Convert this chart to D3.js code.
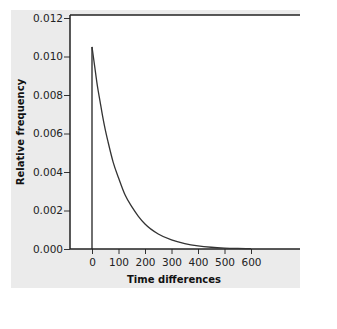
<!DOCTYPE html>
<html><head><meta charset="utf-8">
<script src="https://cdn.jsdelivr.net/npm/d3@7"></script>
<style>body{margin:0;background:#fff}svg{display:block}</style>
</head><body>
<script>
const timeValues = [0, 10, 20, 30, 40, 50, 60, 80, 100, 125, 150, 175, 200, 250, 300, 350, 400, 450, 500, 550, 600];
const freqValues = [0.0105, 0.0095, 0.0085, 0.0077, 0.0069, 0.0062, 0.0056, 0.0045, 0.0037, 0.0028, 0.0022, 0.0017, 0.0013, 0.00078, 0.00047, 0.00028, 0.00016, 0.00009, 0.00005, 0.00003, 0.00002];
const xTicks = [0, 100, 200, 300, 400, 500, 600];
const yTicks = [0, 0.002, 0.004, 0.006, 0.008, 0.010, 0.012];

(function () {
const W = 337, H = 329;
const svg = d3.select("body").append("svg").attr("width", W).attr("height", H);
svg.append("rect").attr("x", 11).attr("y", 10).attr("width", 289).attr("height", 278).attr("fill", "#ebebeb");

const pl = 70, pr = 300, pt = 15, pb = 249;
svg.append("rect").attr("x", pl).attr("y", pt).attr("width", pr - pl).attr("height", pb - pt).attr("fill", "#fff");

const x = d3.scaleLinear().domain([0, 600]).range([92, 251]);
const y = d3.scaleLinear().domain([0, 0.012]).range([pb, 18]);

const font = "DejaVu Sans, Verdana, sans-serif";

const yAxis = svg.append("g").attr("transform", `translate(${pl},0)`)
  .call(d3.axisLeft(y).tickValues(yTicks).tickFormat(d3.format(".3f")).tickSize(6).tickSizeOuter(0));
yAxis.select(".domain").remove();
const xAxis = svg.append("g").attr("transform", `translate(0,${pb})`)
  .call(d3.axisBottom(x).tickValues(xTicks).tickFormat(d3.format("d")).tickSize(5).tickSizeOuter(0));
xAxis.select(".domain").remove();
[yAxis, xAxis].forEach(g => {
  g.selectAll("line").attr("stroke", "#333");
  g.selectAll("text").attr("font-family", font).attr("font-size", "10.5px").attr("fill", "#222");
});
yAxis.selectAll("text").attr("x", -7);
xAxis.selectAll("text").attr("y", 10);

svg.append("line").attr("x1", pl).attr("x2", pr).attr("y1", pt).attr("y2", pt).attr("stroke", "#222").attr("stroke-width", 1.5);
svg.append("line").attr("x1", pl).attr("x2", pl).attr("y1", pt).attr("y2", pb).attr("stroke", "#222").attr("stroke-width", 1.5);
svg.append("line").attr("x1", pl).attr("x2", pr).attr("y1", pb).attr("y2", pb).attr("stroke", "#222").attr("stroke-width", 1.5);

svg.append("line").attr("x1", x(0)).attr("x2", x(0)).attr("y1", y(0)).attr("y2", y(freqValues[0]))
  .attr("stroke", "#222").attr("stroke-width", 1.3);

const data = timeValues.map((t, i) => [t, freqValues[i]]);
svg.append("path").datum(data)
  .attr("d", d3.line().x(d => x(d[0])).y(d => y(d[1])).curve(d3.curveMonotoneX))
  .attr("fill", "none").attr("stroke", "#333").attr("stroke-width", 1.3);

svg.append("text").attr("x", 174).attr("y", 283).attr("text-anchor", "middle")
  .attr("font-family", font).attr("font-weight", "bold").attr("font-size", "10px").attr("fill", "#111")
  .text("Time differences");
svg.append("text").attr("transform", "translate(24,132) rotate(-90)").attr("text-anchor", "middle")
  .attr("font-family", font).attr("font-weight", "bold").attr("font-size", "10px").attr("fill", "#111")
  .text("Relative frequency");
})();
</script>
</body></html>
